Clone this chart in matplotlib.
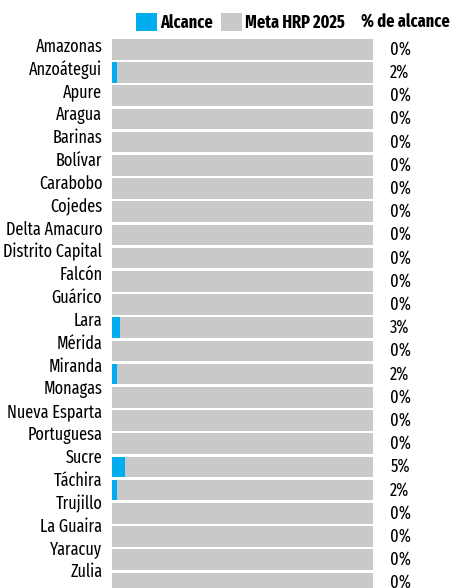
import matplotlib
matplotlib.use("Agg")
import matplotlib.pyplot as plt
from matplotlib.patches import Patch
from matplotlib.transforms import ScaledTranslation

plt.rcParams['font.family'] = ['Fira Sans Extra Condensed', 'DejaVu Sans']

ESTADOS = [
    'Amazonas', 'Anzoátegui', 'Apure', 'Aragua', 'Barinas', 'Bolívar',
    'Carabobo', 'Cojedes', 'Delta Amacuro', 'Distrito Capital', 'Falcón',
    'Guárico', 'Lara', 'Mérida', 'Miranda', 'Monagas', 'Nueva Esparta',
    'Portuguesa', 'Sucre', 'Táchira', 'Trujillo', 'La Guaira', 'Yaracuy',
    'Zulia',
]
# % de alcance respecto a la meta HRP 2025
ALCANCE_PCT = [0, 2, 0, 0, 0, 0, 0, 0, 0, 0, 0, 0, 3, 0, 2, 0, 0, 0, 5, 2,
               0, 0, 0, 0]
META_PCT = [100] * len(ESTADOS)

BLUE = '#00AEEF'
GRAY = '#C8C9C8'
FS = 12.7

W, H = 457, 588
fig = plt.figure(figsize=(W / 100, H / 100), dpi=100)

# axes in pixel terms: bars from x=112 to 373, first row top ~37.7px
row_px = 23.2
n = len(ESTADOS)
top_px = 37.7
ax_h = n * row_px
ax = fig.add_axes([112 / W, (H - top_px - ax_h) / H, 261 / W, ax_h / H])

y = list(range(n))
bh = 0.885
ax.barh(y, META_PCT, height=bh, color=GRAY, zorder=1)
ax.barh(y, ALCANCE_PCT, height=bh, color=BLUE, zorder=2)

ax.set_xlim(0, 100)
ax.set_ylim(n - 0.5, -0.5)
ax.set_xticks([])
ax.set_yticks(y)
ax.set_yticklabels(ESTADOS, fontsize=FS)
ax.tick_params(axis='y', length=0, pad=7)
# the names drift upward a little vs. the bars in the original
for i, lab in enumerate(ax.get_yticklabels()):
    off = (4.6 + i * 8.1 / (n - 1)) / 100
    lab.set_transform(lab.get_transform() + ScaledTranslation(0, off, fig.dpi_scale_trans))
for s in ax.spines.values():
    s.set_visible(False)

for i, v in enumerate(ALCANCE_PCT):
    ax.text(106.6, i, f'{v}%', va='center', ha='left', fontsize=FS,
            clip_on=False)

handles = [Patch(facecolor=BLUE, label='Alcance'),
           Patch(facecolor=GRAY, label='Meta HRP 2025')]
fig.legend(handles=handles, loc='center left', bbox_to_anchor=(136 / W, 1 - 22.5 / H),
           ncol=2, frameon=False, prop={'weight': 'bold', 'size': FS},
           handlelength=1.18, handleheight=1.18, handletextpad=0.2,
           columnspacing=0.45, borderpad=0, borderaxespad=0)
fig.text(361 / W, 1 - 22.5 / H, '% de alcance', ha='left', va='center',
         fontsize=FS, fontweight='bold')

fig.savefig('out.png', dpi=100)
